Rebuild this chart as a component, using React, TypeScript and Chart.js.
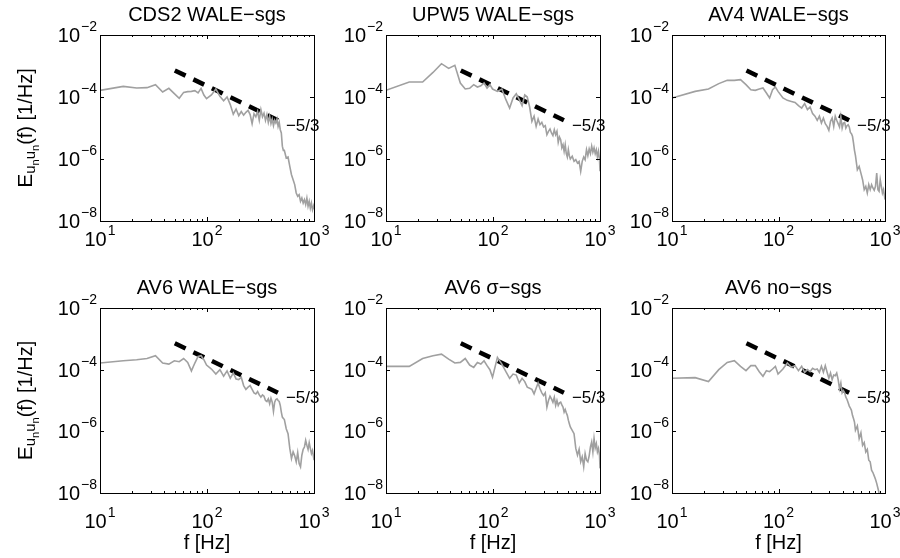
import React, { useEffect, useRef } from "react";
import { Chart, registerables } from "chart.js";

Chart.register(...registerables);

const FONT = '"Liberation Sans", Arial, Helvetica, sans-serif';
const W = 900;
const H = 558;

// Frequency grid [Hz]
const FREQ = [10, 16.5, 22, 27.5, 33, 38.5, 44, 49.5, 55, 60.5, 66, 71.5, 77, 82.5, 88, 93.5, 99,
  110, 121, 132, 143, 154, 165, 176, 187, 198, 209, 220, 231, 242, 253, 264, 275, 286, 297, 308,
  319, 330, 341, 352, 363, 374, 385, 396, 407, 418, 429, 440, 451, 462, 473, 484, 495, 506, 517, 528,
  550, 572, 594, 616, 638, 660, 682, 704, 726, 748, 770, 792, 814, 836, 858, 880, 902, 924, 946, 968, 990, 1000];

// Spectra E_{unun}(f) [1/Hz]
const CDS2_WALE = [1.64e-4, 2.2e-4, 1.95e-4, 2.0e-4, 2.5e-4, 1.45e-4, 1.9e-4, 1.28e-4, 9.1e-5, 1.41e-4,
  1.49e-4, 1.52e-4, 1.6e-4, 1.35e-4, 1.9e-4, 1.16e-4, 8.8e-5, 1.16e-4, 1.8e-4, 1.05e-4,
  7.6e-5, 1.0e-4, 5.7e-5, 2.8e-5, 4.1e-5, 2.5e-5, 3.4e-5, 2.6e-5, 3.2e-5, 3.7e-5,
  2.7e-5, 1.38e-5, 2.9e-5, 2.3e-5, 3.4e-5, 1.77e-5, 3.9e-5, 2.3e-5, 3.0e-5, 1.77e-5,
  2.7e-5, 1.52e-5, 2.4e-5, 1.38e-5, 1.95e-5, 1.19e-5, 1.77e-5, 1.45e-5, 1.95e-5, 1.13e-5,
  1.52e-5, 8.8e-6, 6.9e-6, 2.6e-6, 1.9e-6, 1.9e-6, 1.08e-6, 1.16e-6, 5.8e-7, 3.1e-7,
  2.15e-7, 1.49e-7, 8.0e-8, 6.3e-8, 7.1e-8, 4.3e-8, 5.5e-8, 3.8e-8, 4.9e-8, 3.4e-8,
  5.5e-8, 3.0e-8, 4.3e-8, 2.6e-8, 3.8e-8, 2.3e-8, 3.0e-8, 2.4e-8];

const UPW5_WALE = [1.64e-4, 3.05e-4, 3.05e-4, 6.2e-4, 1.19e-3, 8.4e-4, 1.05e-3, 2.83e-4, 1.81e-4, 1.9e-4,
  2.5e-4, 2.1e-4, 2.3e-4, 2.83e-4, 1.95e-4, 2.5e-4, 1.81e-4, 1.52e-4, 1.81e-4, 8.2e-5,
  4.4e-5, 9.3e-5, 1.28e-4, 8.2e-5, 5.25e-5, 1.16e-4, 1.0e-4, 4.75e-5, 1.64e-5, 2.4e-5,
  1.13e-5, 1.95e-5, 1.28e-5, 1.52e-5, 1.08e-5, 1.19e-5, 6.1e-6, 7.8e-6, 9.3e-6, 6.9e-6,
  5.7e-6, 8.8e-6, 6.1e-6, 7.8e-6, 3.45e-6, 5.1e-6, 4.2e-6, 2.3e-6, 2.9e-6, 1.77e-6,
  2.9e-6, 1.5e-6, 1.16e-6, 2.0e-6, 1.28e-6, 1.0e-6, 1.22e-6, 8.4e-7, 9.5e-7, 7.4e-7,
  8.4e-7, 4.0e-7, 8.4e-7, 1.16e-6, 9.5e-7, 2.0e-6, 1.28e-6, 2.1e-6, 1.5e-6, 2.6e-6,
  1.65e-6, 2.3e-6, 1.5e-6, 2.0e-6, 1.16e-6, 1.77e-6, 9.5e-7, 4.0e-7];

const AV4_WALE = [9.3e-5, 1.52e-4, 1.81e-4, 2.7e-4, 3.45e-4, 3.45e-4, 3.62e-4, 2.5e-4, 1.72e-4, 1.64e-4,
  1.81e-4, 1.95e-4, 1.35e-4, 9.3e-5, 1.72e-4, 2.1e-4, 1.52e-4, 9.3e-5, 7.8e-5, 7.2e-5,
  6.7e-5, 5.25e-5, 4.4e-5, 6.1e-5, 3.9e-5, 4.75e-5, 2.9e-5, 2.4e-5, 1.77e-5, 2.4e-5,
  1.45e-5, 2.1e-5, 1.38e-5, 1.13e-5, 8.4e-6, 1.64e-5, 2.1e-5, 1.13e-5, 2.4e-5, 1.77e-5,
  1.38e-5, 1.08e-5, 2.3e-5, 1.0e-5, 1.45e-5, 1.52e-5, 1.0e-5, 1.19e-5, 1.28e-5, 1.08e-5,
  7.2e-6, 6.6e-6, 5.4e-6, 3.3e-6, 1.9e-6, 1.28e-6, 4.5e-7, 5.8e-7, 3.5e-7, 2.15e-7,
  1.03e-7, 1.31e-7, 8.0e-8, 1.49e-7, 1.03e-7, 1.49e-7, 1.16e-7, 9.8e-8, 1.31e-7, 3.5e-7,
  1.03e-7, 9.1e-8, 2.15e-7, 1.31e-7, 8.0e-8, 1.03e-7, 6.3e-8, 4.9e-8];

const AV6_WALE = [1.64e-4, 1.95e-4, 2.1e-4, 2.3e-4, 2.83e-4, 1.64e-4, 1.52e-4, 1.95e-4, 1.81e-4, 2.3e-4,
  1.72e-4, 9.1e-5, 1.64e-4, 2.7e-4, 2.83e-4, 2.1e-4, 1.41e-4, 1.05e-4, 7.2e-5, 1.0e-4,
  6.1e-5, 9.1e-5, 5.25e-5, 7.8e-5, 5.0e-5, 4.75e-5, 5.7e-5, 3.05e-5, 2.3e-5, 2.7e-5,
  3.05e-5, 2.3e-5, 1.77e-5, 1.64e-5, 1.95e-5, 1.52e-5, 1.28e-5, 1.52e-5, 1.38e-5, 1.0e-5,
  9.3e-6, 1.13e-5, 7.8e-6, 1.19e-5, 8.8e-6, 4.4e-6, 8.8e-6, 1.08e-5, 1.13e-5, 1.0e-5,
  9.3e-6, 6.9e-6, 4.2e-6, 2.9e-6, 2.6e-6, 2.45e-6, 1.22e-6, 8.4e-7, 2.8e-7, 1.31e-7,
  2.15e-7, 1.6e-7, 1.03e-7, 2.05e-7, 9.1e-8, 7.1e-8, 1.68e-7, 2.6e-7, 3.1e-7, 5.1e-7,
  3.5e-7, 2.6e-7, 4.3e-7, 2.8e-7, 1.9e-7, 2.4e-7, 1.49e-7, 1.16e-7];

const AV6_SIGMA = [1.28e-4, 1.28e-4, 2.3e-4, 2.83e-4, 3.2e-4, 2.21e-4, 1.64e-4, 1.72e-4, 2.3e-4, 1.41e-4,
  1.19e-4, 1.72e-4, 1.52e-4, 1.95e-4, 1.35e-4, 1.0e-4, 5.7e-5, 2.5e-4, 1.52e-4, 8.6e-5,
  5.25e-5, 7.2e-5, 6.7e-5, 3.7e-5, 5.25e-5, 4.1e-5, 2.7e-5, 2.5e-5, 2.3e-5, 1.64e-5,
  2.5e-5, 3.7e-5, 2.4e-5, 1.77e-5, 1.45e-5, 1.77e-5, 6.1e-6, 1.0e-5, 1.38e-5, 1.13e-5,
  8.8e-6, 1.28e-5, 6.9e-6, 1.0e-5, 6.9e-6, 8.4e-6, 8.8e-6, 7.2e-6, 6.1e-6, 4.2e-6,
  5.1e-6, 4.0e-6, 3.3e-6, 2.3e-6, 1.77e-6, 1.38e-6, 1.08e-6, 8.4e-7, 2.8e-7, 1.68e-7,
  2.6e-7, 1.03e-7, 1.49e-7, 7.1e-8, 1.9e-7, 1.16e-7, 1.03e-7, 1.6e-7, 3.1e-7, 4.5e-7,
  2.15e-7, 5.8e-7, 2.9e-7, 4.0e-7, 2.15e-7, 2.8e-7, 1.68e-7, 6.3e-8];

const AV6_NOSGS = [5.25e-5, 5.5e-5, 4.1e-5, 1.0e-4, 1.72e-4, 1.95e-4, 1.28e-4, 9.3e-5, 1.35e-4, 1.35e-4,
  8.6e-5, 6.1e-5, 9.3e-5, 8.6e-5, 1.05e-4, 1.28e-4, 7.2e-5, 1.05e-4, 1.64e-4, 1.19e-4,
  1.35e-4, 9.3e-5, 1.28e-4, 8.2e-5, 1.0e-4, 8.6e-5, 1.1e-4, 1.0e-4, 1.05e-4, 8.2e-5,
  1.28e-4, 8.2e-5, 1.35e-4, 8.2e-5, 5.25e-5, 7.8e-5, 4.75e-5, 6.7e-5, 6.4e-5, 7.8e-5,
  4.8e-5, 2.4e-5, 3.7e-5, 1.77e-5, 2.1e-5, 1.77e-5, 1.28e-5, 1.08e-5, 8.4e-6, 6.6e-6,
  5.7e-6, 4.8e-6, 3.3e-6, 2.6e-6, 2.0e-6, 1.08e-6, 1.5e-6, 5.8e-7, 9.0e-7, 3.5e-7,
  4.3e-7, 2.15e-7, 2.6e-7, 1.16e-7, 1.03e-7, 5.5e-8, 4.6e-8, 3.6e-8, 2.8e-8, 2.05e-8,
  1.42e-8, 1.0e-8, null, null, null, null, null, null];

// -5/3 reference slope
const SLOPE_F = [50, 460];
const SLOPE_E = [7.2e-4, 1.78e-5];
const SLOPE_LABEL = "\u22125/3";

const TITLES = ["CDS2 WALE\u2212sgs", "UPW5 WALE\u2212sgs", "AV4 WALE\u2212sgs",
  "AV6 WALE\u2212sgs", "AV6 \u03c3\u2212sgs", "AV6 no\u2212sgs"];
const SERIES = [CDS2_WALE, UPW5_WALE, AV4_WALE, AV6_WALE, AV6_SIGMA, AV6_NOSGS];

const X_MAJOR = [10, 100, 1000];
const X_MINOR = [20, 30, 40, 50, 60, 70, 80, 90, 200, 300, 400, 500, 600, 700, 800, 900];
const Y_MAJOR = [1e-2, 1e-4, 1e-6, 1e-8];
const X_LABEL = "f [Hz]";

// layout (pixels)
const COLS = [[100, 314], [386, 600], [672, 885]];
const ROWS = [[35, 221], [308, 493]];
const XTICK_OFFSET = [25, 35];

function drawPow(ctx: CanvasRenderingContext2D, exp: number, x: number, baseY: number, align: string) {
  const baseFont = `20px ${FONT}`;
  const supFont = `14px ${FONT}`;
  ctx.font = baseFont;
  const wb = ctx.measureText("10").width;
  const es = exp < 0 ? "\u2212" + String(-exp) : String(exp);
  ctx.font = supFont;
  const we = ctx.measureText(es).width;
  const gap = 1;
  const total = wb + gap + we;
  const x0 = align === "center" ? x - total / 2 : x - total;
  ctx.textAlign = "left";
  ctx.textBaseline = "alphabetic";
  ctx.font = baseFont;
  ctx.fillText("10", x0, baseY);
  ctx.font = supFont;
  ctx.fillText(es, x0 + wb + gap, baseY - 11);
}

function makeFrame(idx: number) {
  const col = idx % 3;
  const row = Math.floor(idx / 3);
  return {
    id: "frame" + idx,
    afterDatasetsDraw(chart: any) {
      const ctx: CanvasRenderingContext2D = chart.ctx;
      const { left, right, top, bottom } = chart.chartArea;
      const xs = chart.scales.x;
      const ys = chart.scales.y;
      ctx.save();
      ctx.fillStyle = "#000";
      // slope label
      const lx = xs.getPixelForValue(SLOPE_F[SLOPE_F.length - 1]);
      const ly = ys.getPixelForValue(SLOPE_E[SLOPE_E.length - 1]);
      ctx.font = `17px ${FONT}`;
      ctx.textAlign = "left";
      ctx.textBaseline = "middle";
      ctx.fillText(SLOPE_LABEL, lx + 8, ly + 6);
      // box
      ctx.strokeStyle = "#000";
      ctx.lineWidth = 1;
      ctx.strokeRect(left + 0.5, top + 0.5, right - left, bottom - top);
      // ticks
      ctx.beginPath();
      X_MAJOR.forEach((v) => {
        const px = Math.round(xs.getPixelForValue(v)) + 0.5;
        ctx.moveTo(px, bottom); ctx.lineTo(px, bottom - 4);
        ctx.moveTo(px, top); ctx.lineTo(px, top + 4);
      });
      X_MINOR.forEach((v) => {
        const px = Math.round(xs.getPixelForValue(v)) + 0.5;
        ctx.moveTo(px, bottom); ctx.lineTo(px, bottom - 2);
        ctx.moveTo(px, top); ctx.lineTo(px, top + 2);
      });
      Y_MAJOR.forEach((v) => {
        const py = Math.round(ys.getPixelForValue(v)) + 0.5;
        ctx.moveTo(left, py); ctx.lineTo(left + 4, py);
        ctx.moveTo(right, py); ctx.lineTo(right - 4, py);
      });
      ctx.stroke();
      // tick labels
      X_MAJOR.forEach((v) => {
        const px = xs.getPixelForValue(v);
        drawPow(ctx, Math.round(Math.log10(v)), px, bottom + XTICK_OFFSET[row], "center");
      });
      Y_MAJOR.forEach((v) => {
        const py = ys.getPixelForValue(v);
        drawPow(ctx, Math.round(Math.log10(v)), left - 3, py + 7, "right");
      });
      // title
      ctx.font = `20px ${FONT}`;
      ctx.textAlign = "center";
      ctx.textBaseline = "alphabetic";
      ctx.fillText(TITLES[idx], (left + right) / 2, top - 14);
      // x label
      if (row === 1) {
        ctx.font = `20px ${FONT}`;
        ctx.textAlign = "center";
        ctx.fillText(X_LABEL, (left + right) / 2, 549);
      }
      // y label
      if (col === 0) {
        const segs: [string, number, number][] = [
          ["E", 21, 0], ["u", 15, 3], ["n", 11, 7], ["u", 15, 3], ["n", 11, 7], ["(f) [1/Hz]", 20, 0],
        ];
        let total = 0;
        const widths = segs.map(([t, s]) => {
          ctx.font = `${s}px ${FONT}`;
          const w = ctx.measureText(t).width;
          total += w;
          return w;
        });
        ctx.save();
        ctx.translate(32, (top + bottom) / 2);
        ctx.rotate(-Math.PI / 2);
        ctx.textAlign = "left";
        ctx.textBaseline = "alphabetic";
        let x = -total / 2;
        segs.forEach(([t, s, dy], i) => {
          ctx.font = `${s}px ${FONT}`;
          ctx.fillText(t, x, dy);
          x += widths[i];
        });
        ctx.restore();
      }
      ctx.restore();
    },
  };
}

function Panel({ idx }: { idx: number }) {
  const ref = useRef<HTMLCanvasElement | null>(null);
  useEffect(() => {
    const col = idx % 3;
    const row = Math.floor(idx / 3);
    const [l, r] = COLS[col];
    const [t, b] = ROWS[row];
    const series = SERIES[idx];
    const chart = new Chart(ref.current as HTMLCanvasElement, {
      type: "line",
      data: {
        datasets: [
          {
            data: FREQ.map((f, i) => ({ x: f, y: series[i] })),
            borderColor: "#a0a0a0",
            borderWidth: 1.6,
            pointRadius: 0,
            tension: 0,
            spanGaps: false,
            clip: 0,
          } as any,
          {
            data: SLOPE_F.map((f, i) => ({ x: f, y: SLOPE_E[i] })),
            borderColor: "#000",
            borderWidth: 4.5,
            borderDash: [12, 8.6],
            borderCapStyle: "butt",
            pointRadius: 0,
            clip: 0,
          } as any,
        ],
      },
      options: {
        responsive: false,
        animation: false,
        events: [],
        layout: { padding: { left: l, right: W - r, top: t, bottom: H - b } },
        scales: {
          x: { type: "logarithmic", min: 10, max: 1000, display: false },
          y: { type: "logarithmic", min: 1e-8, max: 1e-2, display: false },
        },
        plugins: { legend: { display: false }, tooltip: { enabled: false }, title: { display: false } },
      },
      plugins: [makeFrame(idx)],
    });
    return () => chart.destroy();
  }, [idx]);
  return (
    <canvas
      ref={ref}
      width={W}
      height={H}
      style={{ position: "absolute", left: 0, top: 0, width: W, height: H }}
    />
  );
}

export default function App() {
  return (
    <div style={{ position: "fixed", left: 0, top: 0, width: W, height: H, background: "#fff" }}>
      {[0, 1, 2, 3, 4, 5].map((i) => (
        <Panel key={i} idx={i} />
      ))}
    </div>
  );
}
